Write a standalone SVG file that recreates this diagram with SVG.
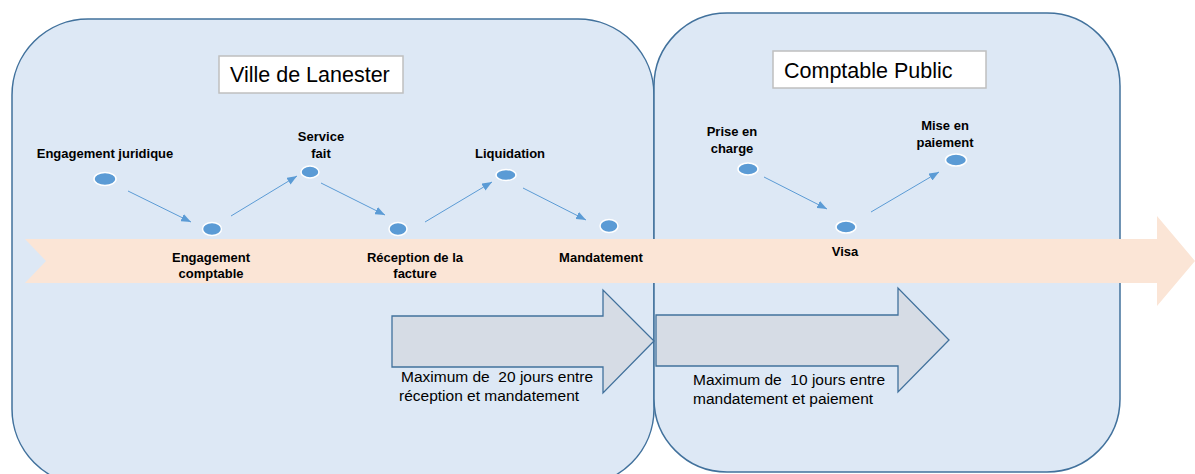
<svg xmlns="http://www.w3.org/2000/svg" width="1195" height="474" viewBox="0 0 1195 474">
<defs>
<marker id="ah" viewBox="0 0 10 8" refX="10" refY="4" markerWidth="10" markerHeight="8" markerUnits="userSpaceOnUse" orient="auto">
<path d="M0,0 L10,4 L0,8 Z" fill="#5b9bd5"/>
</marker>
<style>
.panel{fill:#dde8f5;stroke:#41719c;stroke-width:1.5}
.title{fill:#ffffff;stroke:#bfbfbf;stroke-width:1.5}
.tt{font-family:"Liberation Sans",Arial,sans-serif;font-size:21.5px;fill:#000}
.lbl{font-family:"Liberation Sans",Arial,sans-serif;font-size:13px;font-weight:bold;fill:#000;text-anchor:middle}
.note{font-family:"Liberation Sans",Arial,sans-serif;font-size:15.5px;fill:#000;white-space:pre}
.dot{fill:#5b9bd5;stroke:#ffffff;stroke-width:1.5}
.con{stroke:#5b9bd5;stroke-width:1;fill:none;marker-end:url(#ah)}
.gray{fill:#d6dce5;stroke:#41719c;stroke-width:1.3}
</style>
</defs>
<rect width="1195" height="474" fill="#ffffff"/>
<g id="panel-ville"><rect class="panel" x="12" y="19" width="642" height="466" rx="76" ry="76"/></g>
<g id="panel-comptable"><rect class="panel" x="654" y="13" width="466" height="459" rx="73" ry="73"/></g>
<g id="timeline"><path d="M25,239 L1157,239 L1157,216 L1195,261 L1157,306 L1157,283 L25,283 L46,261 Z" fill="#fbe5d6"/></g>
<g id="delay-20">
<path class="gray" d="M392,316 H603 V290 L654,341 L603,393 V367 H392 Z"/>
<text class="note" x="401" y="382" xml:space="preserve">Maximum de  20 jours entre</text>
<text class="note" x="399" y="401">réception et mandatement</text>
</g>
<g id="delay-10">
<path class="gray" d="M656,315 H898 V288 L949,340 L898,392 V366 H656 Z"/>
<text class="note" x="693" y="385" xml:space="preserve">Maximum de  10 jours entre</text>
<text class="note" x="693" y="404">mandatement et paiement</text>
</g>
<g id="title-ville"><rect class="title" x="219" y="56" width="184" height="37"/><text class="tt" x="230" y="82">Ville de Lanester</text></g>
<g id="title-comptable"><rect class="title" x="773" y="51" width="213" height="37"/><text class="tt" x="784" y="78">Comptable Public</text></g>
<g id="connectors">
<line class="con" x1="128" y1="191" x2="191" y2="222"/>
<line class="con" x1="231" y1="216" x2="297" y2="176"/>
<line class="con" x1="321" y1="183" x2="385" y2="215"/>
<line class="con" x1="425" y1="222" x2="492" y2="182"/>
<line class="con" x1="523" y1="188" x2="586" y2="220"/>
<line class="con" x1="764" y1="177" x2="827" y2="209"/>
<line class="con" x1="871" y1="212" x2="939" y2="172"/>
</g>
<g id="n-engagement-juridique"><ellipse class="dot" cx="105" cy="179" rx="11" ry="6.5"/><text class="lbl" x="105" y="158">Engagement juridique</text></g>
<g id="n-engagement-comptable"><ellipse class="dot" cx="212" cy="229" rx="9.5" ry="6.5"/><text class="lbl" x="211" y="262">Engagement</text><text class="lbl" x="211" y="278">comptable</text></g>
<g id="n-service-fait"><ellipse class="dot" cx="310" cy="172" rx="9" ry="6"/><text class="lbl" x="321" y="141">Service</text><text class="lbl" x="321" y="158">fait</text></g>
<g id="n-reception"><ellipse class="dot" cx="398" cy="229" rx="9" ry="6.5"/><text class="lbl" x="415" y="262">Réception de la</text><text class="lbl" x="415" y="278">facture</text></g>
<g id="n-liquidation"><ellipse class="dot" cx="506" cy="175" rx="10" ry="5.5"/><text class="lbl" x="510" y="158">Liquidation</text></g>
<g id="n-mandatement"><ellipse class="dot" cx="609" cy="226" rx="9" ry="6.5"/><text class="lbl" x="601" y="262">Mandatement</text></g>
<g id="n-prise-en-charge"><ellipse class="dot" cx="748" cy="169" rx="10" ry="6"/><text class="lbl" x="732" y="136">Prise en</text><text class="lbl" x="732" y="153">charge</text></g>
<g id="n-visa"><ellipse class="dot" cx="846" cy="227" rx="10" ry="6"/><text class="lbl" x="845" y="256">Visa</text></g>
<g id="n-mise-en-paiement"><ellipse class="dot" cx="956" cy="160" rx="10.5" ry="6"/><text class="lbl" x="945" y="130">Mise en</text><text class="lbl" x="945" y="147">paiement</text></g>
</svg>
